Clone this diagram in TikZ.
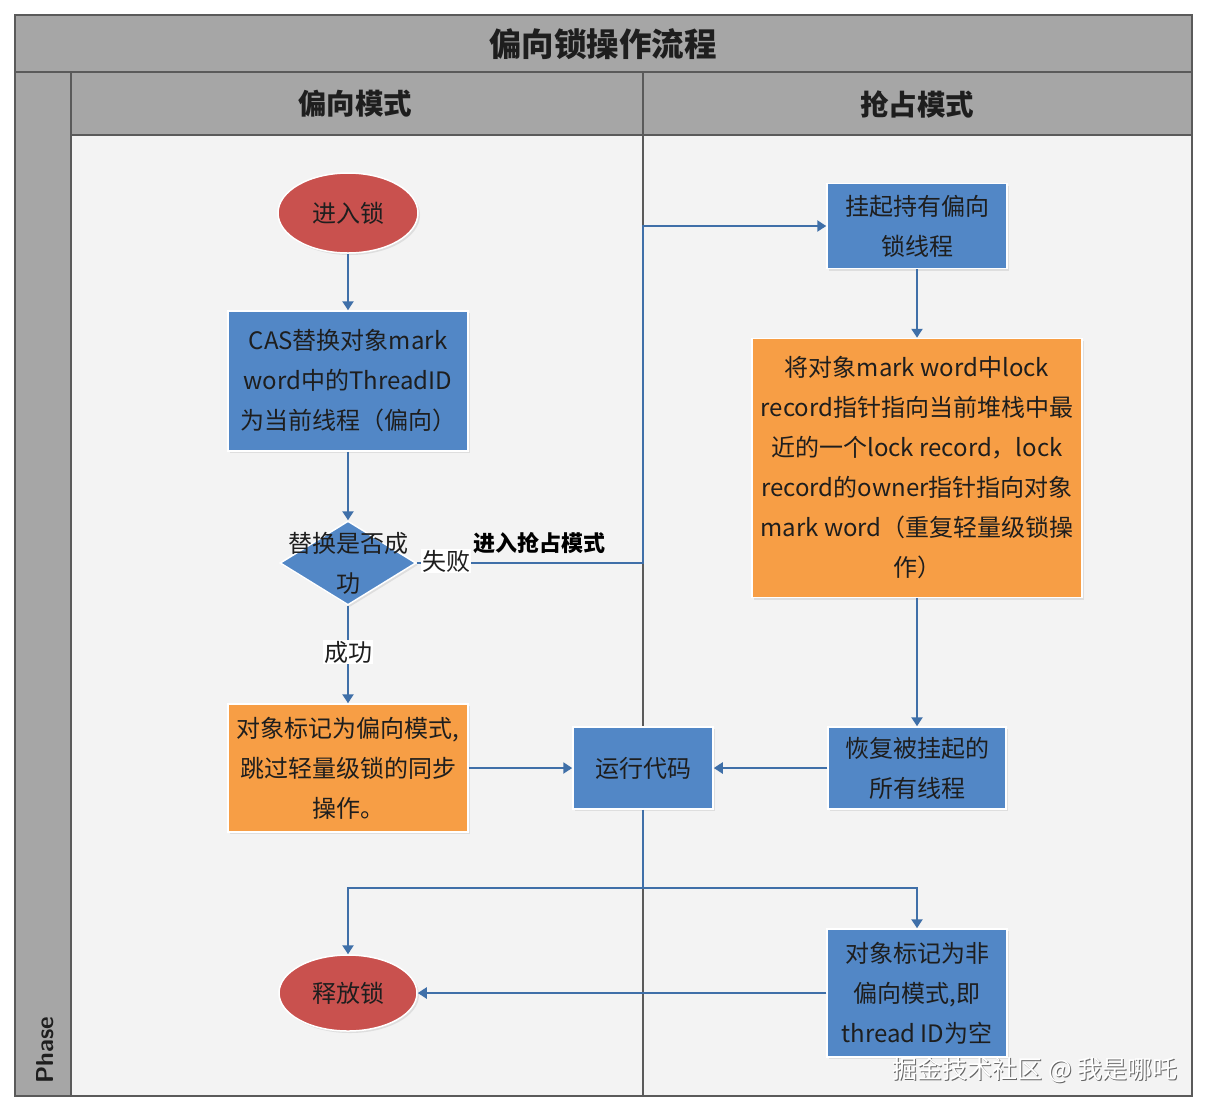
\documentclass[tikz,border=0pt]{standalone}
\usepackage{fontspec}
\setmainfont{Noto Sans CJK SC}
\usetikzlibrary{shapes.geometric,arrows.meta,shadows}
\definecolor{hdrgray}{HTML}{A6A6A6}
\definecolor{bodybg}{HTML}{F3F3F3}
\definecolor{linegray}{HTML}{5A5A5A}
\definecolor{boxblue}{HTML}{5287C6}
\definecolor{boxorange}{HTML}{F79E45}
\definecolor{boxred}{HTML}{C9514E}
\definecolor{arrblue}{HTML}{3F6FA8}
\definecolor{txt}{HTML}{1E1E1E}
\tikzset{
  bodyfont/.style={font=\fontsize{24}{40}\selectfont, text=txt, align=center},
  box/.style={bodyfont, draw=white, line width=1.5pt, drop shadow={opacity=0.18, shadow xshift=2pt, shadow yshift=-2pt}, inner sep=0pt},
  bluebox/.style={box, fill=boxblue},
  orangebox/.style={box, fill=boxorange},
  term/.style={box, ellipse, fill=boxred},
  arr/.style={draw=arrblue, line width=2.4pt, -{Triangle[length=9pt,width=11pt]}},
  conn/.style={draw=arrblue, line width=2.4pt},
  lbl/.style={bodyfont, fill=white, inner sep=1pt},
}
\begin{document}
\begin{tikzpicture}[x=1pt,y=-1pt]
\useasboundingbox (0,0) rectangle (1206,1112);
\fill[white] (0,0) rectangle (1206,1112);
% lanes
\fill[bodybg] (71,135) rectangle (1192,1096);
\fill[hdrgray] (15,15) rectangle (1192,72);
\fill[hdrgray] (15,72) rectangle (71,1096);
\fill[hdrgray] (71,72) rectangle (1192,135);
\draw[linegray, line width=1.2pt] (71,72) -- (71,1096);
\draw[linegray, line width=1.2pt] (643,72) -- (643,1096);
\draw[linegray, line width=1.6pt] (15,72) -- (1192,72);
\draw[linegray, line width=1.2pt] (71,135) -- (1192,135);
\draw[linegray, line width=1.6pt] (15,15) rectangle (1192,1096);
\node[font=\fontsize{32.5}{38}\selectfont\bfseries, text=txt] (title) at (603,44) {偏向锁操作流程};
\node[font=\fontsize{28.5}{34}\selectfont\bfseries, text=txt] (lane1) at (355,104) {偏向模式};
\node[font=\fontsize{28.5}{34}\selectfont\bfseries, text=txt] (lane2) at (917,104) {抢占模式};
\node[font=\fontsize{24.5}{28}\selectfont\sffamily\bfseries, text=txt, rotate=90] (phase) at (45,1050) {Phase};

% nodes
\node[term, minimum width=140pt, minimum height=80pt] (enter) at (348,213) {进入锁};
\node[bluebox, minimum width=240pt, minimum height=140pt] (cas) at (348,381) {CAS替换对象mark\\word中的ThreadID\\为当前线程（偏向）};
\node[diamond, fill=boxblue, draw=white, line width=1.5pt, minimum width=136pt, minimum height=84pt, inner sep=0pt, drop shadow={opacity=0.18, shadow xshift=2pt, shadow yshift=-2pt}] (dia) at (348,563) {};
\node[bodyfont] (diatext) at (348,563) {替换是否成\\功};
\node[orangebox, minimum width=240pt, minimum height=128pt] (biased) at (348,768) {对象标记为偏向模式,\\跳过轻量级锁的同步\\操作。};
\node[bluebox, minimum width=140pt, minimum height=82pt] (run) at (643,768) {运行代码};
\node[bluebox, minimum width=180pt, minimum height=85pt] (susp) at (917,226) {挂起持有偏向\\锁线程};
\node[orangebox, minimum width=330pt, minimum height=259pt] (rec) at (917,468) {将对象mark word中lock\\record指针指向当前堆栈中最\\近的一个lock record，lock\\record的owner指针指向对象\\mark word（重复轻量级锁操\\作）};
\node[bluebox, minimum width=178pt, minimum height=82pt] (resume) at (917,768) {恢复被挂起的\\所有线程};
\node[bluebox, minimum width=180pt, minimum height=128pt] (nonb) at (917,993) {对象标记为非\\偏向模式,即\\thread ID为空};
\node[term, minimum width=138pt, minimum height=76pt] (rel) at (348,993) {释放锁};

% connectors
\coordinate (j1) at (643,563);
\coordinate (j2) at (643,888);
\draw[arr] (enter) -- (cas);
\draw[arr] (cas) -- (dia.north);
\draw[arr] (dia.south) -- (biased);
\draw[arr] (dia.east) -- (j1) |- (susp.west);
\draw[arr] (susp) -- (rec);
\draw[arr] (rec) -- (resume);
\draw[arr] (resume) -- (run);
\draw[arr] (biased) -- (run);
\draw[conn] (run) -- (j2);
\draw[arr] (j2) -| (rel.north);
\draw[arr] (j2) -| (nonb.north);
\draw[arr] (nonb) -- (rel);

% labels
\node[lbl] (fail) at (446,561) {失败};
\node[lbl] (ok) at (348,652) {成功};
\node[font=\fontsize{22}{26}\selectfont\bfseries, text=black] (preempt) at (539,543) {进入抢占模式};

% watermark
\node[font=\fontsize{25}{28}\selectfont, text=gray!80!black] (wm0) at (1036,1071) {掘金技术社区 @ 我是哪吒};
\node[font=\fontsize{25}{28}\selectfont, text=white] (wm) at (1035,1070) {掘金技术社区 @ 我是哪吒};
\end{tikzpicture}
\end{document}
